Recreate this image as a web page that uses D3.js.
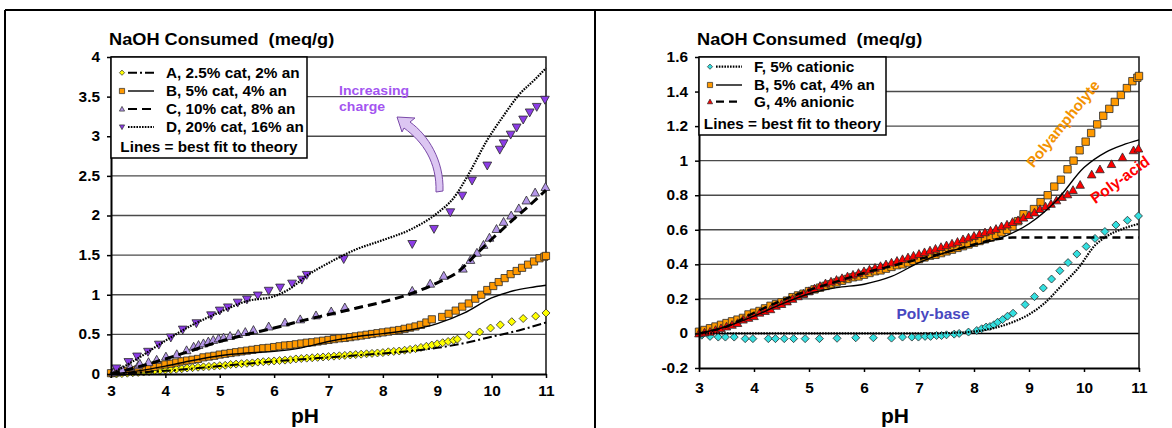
<!DOCTYPE html>
<html>
<head>
<meta charset="utf-8">
<script src="https://cdn.jsdelivr.net/npm/d3@7"></script>
<style>
body { margin: 0; background: #fff; }
svg text { font-family: Arial, "Liberation Sans", sans-serif; font-weight: bold; }
</style>
</head>
<body>
<script>
// ---- data (pH, NaOH consumed meq/g) ----
var xTicks = [3, 4, 5, 6, 7, 8, 9, 10, 11];
var leftYTicks = [0, 0.5, 1, 1.5, 2, 2.5, 3, 3.5, 4];
var rightYTicks = [-0.2, 0, 0.2, 0.4, 0.6, 0.8, 1, 1.2, 1.4, 1.6];

var seriesA = [[3.0,0],[3.1,0],[3.2,0.005],[3.3,0.01],[3.4,0.015],[3.5,0.02],[3.6,0.025],[3.7,0.03],[3.8,0.04],[3.9,0.045],
  [4.0,0.05],[4.1,0.055],[4.2,0.06],[4.3,0.065],[4.4,0.075],[4.5,0.08],[4.6,0.085],[4.7,0.09],[4.8,0.095],[4.9,0.1],
  [5.0,0.105],[5.1,0.11],[5.2,0.12],[5.3,0.125],[5.4,0.13],[5.5,0.135],[5.6,0.14],[5.7,0.15],[5.8,0.155],[5.9,0.16],
  [6.0,0.165],[6.1,0.17],[6.2,0.175],[6.3,0.18],[6.4,0.19],[6.5,0.195],[6.6,0.2],[6.7,0.205],[6.8,0.21],[6.9,0.215],
  [7.0,0.22],[7.1,0.225],[7.2,0.23],[7.3,0.235],[7.4,0.24],[7.5,0.245],[7.6,0.25],[7.7,0.255],[7.8,0.26],[7.9,0.265],
  [8.0,0.27],[8.1,0.28],[8.2,0.285],[8.3,0.29],[8.4,0.3],[8.5,0.31],[8.6,0.32],[8.7,0.335],[8.8,0.35],[8.9,0.365],
  [9.0,0.38],[9.1,0.395],[9.2,0.41],[9.3,0.425],[9.37,0.44],[9.58,0.49],[9.78,0.53],[9.98,0.58],[10.16,0.62],
  [10.37,0.66],[10.58,0.7],[10.81,0.73],[11.0,0.77]];
var fitA = [[3,0],[4,0.04],[5,0.1],[6,0.16],[7,0.21],[8,0.26],[8.5,0.29],[9,0.33],[9.5,0.39],[10,0.47],[10.5,0.55],[11,0.65]];

var seriesB = [[3.0,0.01],[3.1,0.02],[3.2,0.03],[3.3,0.04],[3.4,0.05],[3.5,0.06],[3.6,0.07],[3.7,0.08],[3.8,0.09],[3.9,0.11],
  [4.0,0.12],[4.1,0.13],[4.2,0.145],[4.3,0.16],[4.4,0.17],[4.5,0.18],[4.6,0.19],[4.7,0.21],[4.8,0.22],[4.9,0.23],
  [5.0,0.245],[5.1,0.255],[5.2,0.265],[5.3,0.275],[5.4,0.285],[5.5,0.295],[5.6,0.305],[5.7,0.315],[5.8,0.325],[5.9,0.33],
  [6.0,0.34],[6.1,0.35],[6.2,0.36],[6.3,0.365],[6.4,0.375],[6.5,0.385],[6.6,0.395],[6.7,0.4],[6.8,0.41],[6.9,0.42],
  [7.0,0.43],[7.1,0.44],[7.2,0.45],[7.3,0.455],[7.4,0.465],[7.5,0.475],[7.6,0.485],[7.7,0.495],[7.8,0.505],[7.9,0.515],
  [8.0,0.525],[8.1,0.535],[8.2,0.545],[8.3,0.555],[8.4,0.57],[8.5,0.585],[8.6,0.6],[8.7,0.62],[8.8,0.65],[8.9,0.69],
  [9.09,0.72],[9.21,0.76],[9.34,0.8],[9.46,0.85],[9.58,0.89],[9.7,0.95],[9.81,1.0],[9.92,1.06],[10.03,1.11],[10.13,1.16],
  [10.24,1.21],[10.35,1.26],[10.46,1.3],[10.56,1.34],[10.67,1.38],[10.78,1.42],[10.88,1.46],[10.97,1.48],[11.0,1.49]];
var fitB = [[3,0],[3.5,0.04],[4,0.1],[4.5,0.17],[5,0.23],[5.5,0.265],[6,0.285],[6.5,0.33],[7,0.41],[7.5,0.47],[8,0.51],
  [8.5,0.555],[9,0.635],[9.5,0.77],[10,0.96],[10.4,1.05],[10.7,1.09],[11,1.12]];

var seriesC = [[3.04,0.02],[3.17,0.03],[3.21,0.05],[3.35,0.09],[3.5,0.11],[3.53,0.13],[3.69,0.15],[3.84,0.18],[4.01,0.22],
  [4.21,0.25],[4.39,0.3],[4.52,0.345],[4.61,0.366],[4.7,0.387],[4.79,0.41],[4.88,0.43],[4.98,0.45],[5.07,0.46],[5.19,0.48],
  [5.34,0.505],[5.47,0.53],[5.62,0.555],[5.9,0.6],[6.2,0.65],[6.48,0.69],[6.77,0.74],[7.05,0.79],[7.3,0.84],[8.54,1.05],
  [8.87,1.14],[9.12,1.24],[9.47,1.33],[9.61,1.44],[9.73,1.53],[9.85,1.63],[9.96,1.72],[10.09,1.83],[10.22,1.92],
  [10.36,2.0],[10.5,2.09],[10.64,2.19],[10.8,2.29],[10.99,2.36]];
var fitC = [[3,0],[3.5,0.09],[4,0.19],[4.5,0.3],[5,0.41],[5.5,0.5],[6,0.58],[6.5,0.67],[7,0.75],[7.5,0.83],[8,0.91],
  [8.5,1.01],[9,1.15],[9.4,1.3],[9.7,1.5],[10,1.7],[10.4,1.95],[10.7,2.13],[11,2.32]];

var seriesD = [[3.1,0.07],[3.32,0.15],[3.48,0.22],[3.68,0.28],[3.88,0.37],[4.1,0.46],[4.32,0.56],[4.57,0.64],[4.84,0.74],
  [5.0,0.8],[5.15,0.84],[5.33,0.9],[5.5,0.94],[5.7,0.99],[5.9,1.05],[6.11,1.09],[6.33,1.14],[6.51,1.19],[6.6,1.25],
  [7.28,1.45],[8.54,1.64],[8.94,1.83],[9.24,2.04],[9.46,2.25],[9.64,2.44],[9.92,2.63],[10.15,2.83],[10.22,2.91],
  [10.35,3.02],[10.46,3.11],[10.58,3.21],[10.7,3.3],[10.83,3.37],[10.98,3.46]];
var fitD = [[3,0],[3.5,0.2],[4,0.42],[4.5,0.62],[5,0.78],[5.5,0.92],[6,0.98],[6.3,1.08],[6.6,1.24],[7,1.4],[7.5,1.57],
  [8,1.69],[8.5,1.82],[9,2.03],[9.3,2.22],[9.6,2.55],[9.9,2.93],[10.2,3.24],[10.5,3.52],[10.8,3.72],[11,3.86]];

var seriesF = [[3.05,-0.01],[3.2,-0.017],[3.35,-0.021],[3.48,-0.021],[3.64,-0.021],[3.84,-0.03],[3.98,-0.03],[4.26,-0.03],
  [4.39,-0.03],[4.55,-0.03],[4.72,-0.03],[4.93,-0.03],[5.19,-0.03],[5.51,-0.028],[5.85,-0.025],[6.17,-0.025],[6.5,-0.027],
  [6.7,-0.021],[6.87,-0.021],[6.99,-0.021],[7.11,-0.017],[7.21,-0.017],[7.32,-0.012],[7.41,-0.012],[7.5,-0.008],
  [7.64,-0.004],[7.73,0],[7.9,0.008],[8.05,0.017],[8.14,0.027],[8.22,0.037],[8.29,0.04],[8.36,0.05],[8.43,0.065],
  [8.52,0.08],[8.61,0.1],[8.71,0.117],[8.93,0.167],[9.1,0.213],[9.26,0.263],[9.41,0.315],[9.56,0.363],[9.71,0.41],
  [9.87,0.46],[10.04,0.503],[10.2,0.55],[10.38,0.59],[10.58,0.628],[10.79,0.655],[10.99,0.68]];
var fitF = [[3,0],[7,0],[7.6,0.003],[8.1,0.015],[8.7,0.065],[9,0.11],[9.3,0.18],[9.6,0.28],[9.9,0.38],[10.2,0.51],
  [10.4,0.56],[10.7,0.605],[11,0.635]];

var seriesG = [[3.0,0],[3.1,0.005],[3.2,0.01],[3.3,0.02],[3.4,0.03],[3.5,0.04],[3.6,0.05],[3.7,0.06],[3.8,0.08],[3.9,0.09],
  [4.0,0.1],[4.1,0.12],[4.2,0.13],[4.3,0.14],[4.4,0.16],[4.5,0.17],[4.6,0.185],[4.7,0.2],[4.8,0.215],[4.9,0.23],
  [5.0,0.245],[5.1,0.26],[5.2,0.275],[5.3,0.29],[5.4,0.3],[5.5,0.31],[5.6,0.32],[5.7,0.33],[5.8,0.34],[5.9,0.35],
  [6.0,0.36],[6.1,0.37],[6.2,0.38],[6.3,0.39],[6.4,0.4],[6.5,0.41],[6.6,0.42],[6.7,0.43],[6.8,0.44],[6.9,0.45],
  [7.0,0.46],[7.1,0.47],[7.2,0.48],[7.3,0.49],[7.4,0.5],[7.5,0.51],[7.6,0.52],[7.7,0.53],[7.8,0.545],[7.9,0.555],
  [8.0,0.565],[8.1,0.575],[8.2,0.585],[8.3,0.595],[8.4,0.605],[8.5,0.62],[8.6,0.63],[8.7,0.645],[8.8,0.655],[8.9,0.67],
  [9.0,0.685],[9.1,0.7],[9.2,0.72],[9.3,0.735],[9.4,0.75],[9.5,0.77],[9.6,0.79],[9.7,0.805],[9.8,0.83],[9.93,0.86],
  [10.14,0.92],[10.29,0.95],[10.5,0.98],[10.7,1.02],[10.9,1.06],[10.99,1.07]];
var fitG = [[3,0],[3.5,0.04],[4,0.12],[4.5,0.19],[5,0.25],[5.5,0.3],[6,0.35],[6.5,0.39],[7,0.43],[7.5,0.47],[8,0.515],
  [8.4,0.545],[8.7,0.555],[9,0.555],[11,0.555]];

var yellow1 = "#ffff00";
var orange1 = "#ff9900";
var lilac1 = "#b496e8";
var purple1 = "#8c3ce6";
var red1 = "#ff0000";
var cyan1 = "#33e0e0";

const w = 1172;
const h = 428;

const svg = d3.select("body").append("svg").attr("width", w).attr("height", h);

// outer frame
svg.append("line").attr("x1", 5).attr("y1", 10).attr("x2", w).attr("y2", 10).attr("stroke", "#000").attr("stroke-width", 2);
svg.append("line").attr("x1", 5).attr("y1", 10).attr("x2", 5).attr("y2", h).attr("stroke", "#000").attr("stroke-width", 2);
svg.append("line").attr("x1", 595).attr("y1", 10).attr("x2", 595).attr("y2", h).attr("stroke", "#000").attr("stroke-width", 2);

function shapePath(shape, s) {
    switch (shape) {
        case "diamond": return "M0," + (-s) + "L" + s + ",0L0," + s + "L" + (-s) + ",0Z";
        case "square": return "M" + (-s) + "," + (-s) + "H" + s + "V" + s + "H" + (-s) + "Z";
        case "triUp": return "M0," + (-s) + "L" + s + "," + (s * 0.8) + "L" + (-s) + "," + (s * 0.8) + "Z";
        case "triDown": return "M0," + s + "L" + s + "," + (-s * 0.8) + "L" + (-s) + "," + (-s * 0.8) + "Z";
    }
}

// stretched bold label (the source font renders a bit wide)
function label(g, x, y, txt, size, sx, anchor, color, rot) {
    return g.append("text")
        .attr("transform", "translate(" + x + "," + y + ")" + (rot ? " rotate(" + rot + ")" : "") + " scale(" + sx + ",1)")
        .attr("font-size", size)
        .attr("text-anchor", anchor || "start")
        .attr("fill", color || "#000")
        .text(txt);
}

function drawPanel(p) {
    const g = svg.append("g");
    const x = d3.scaleLinear().domain([3, 11]).range(p.xRange);
    const y = d3.scaleLinear().domain(p.yDomain).range(p.yRange);

    // gridlines
    g.selectAll(".grid")
        .data(p.yTicks.filter(d => d > p.yDomain[0] && d < p.yDomain[1]))
        .enter()
        .append("line")
        .attr("x1", x(3)).attr("x2", x(11))
        .attr("y1", d => y(d)).attr("y2", d => y(d))
        .attr("stroke", d => d == 0 ? "#000" : "#4a4a4a")
        .attr("stroke-width", 1.4);

    // plot box top + right
    g.append("path")
        .attr("d", "M" + x(3) + "," + y(p.yDomain[1]) + "H" + x(11) + "V" + y(p.yDomain[0]))
        .attr("fill", "none").attr("stroke", "#222").attr("stroke-width", 1.6);

    // markers
    p.series.forEach(s => {
        g.append("g").selectAll("path")
            .data(s.pts)
            .enter()
            .append("path")
            .attr("transform", d => "translate(" + x(d[0]) + "," + y(d[1]) + ")")
            .attr("d", shapePath(s.shape, s.size))
            .attr("fill", s.fill)
            .attr("stroke", "#2a2a2a")
            .attr("stroke-width", 0.8);
    });

    // fitted lines
    const line = d3.line().x(d => x(d[0])).y(d => y(d[1])).curve(d3.curveMonotoneX);
    p.series.forEach(s => {
        g.append("path")
            .attr("d", line(s.fit))
            .attr("fill", "none")
            .attr("stroke", "#000")
            .attr("stroke-width", s.lw)
            .attr("stroke-dasharray", s.dash);
    });

    // axes
    const yAxis = g.append("g")
        .attr("transform", "translate(" + x(3) + ",0)")
        .call(d3.axisLeft(y).tickValues(p.yTicks).tickSize(4).tickSizeOuter(0).tickPadding(6).tickFormat(d => String(d)));
    const xAxis = g.append("g")
        .attr("transform", "translate(0," + y(p.yDomain[0]) + ")")
        .call(d3.axisBottom(x).tickValues(xTicks).tickSize(4).tickSizeOuter(0).tickPadding(p.xPad).tickFormat(d => String(d)));
    [yAxis, xAxis].forEach(a => {
        a.attr("font-family", null).attr("font-size", null);
        a.select(".domain").attr("stroke", "#000").attr("stroke-width", 2);
        a.selectAll(".tick line").attr("stroke", "#000").attr("stroke-width", 1.5);
        a.selectAll(".tick text").attr("font-size", 14).attr("fill", "#000").attr("transform", "scale(1.1,1)");
    });

    // titles
    label(g, p.xRange[0] - 2, 45, "NaOH Consumed\u00a0 (meq/g)", 17, 1.07);
    label(g, p.pHx, 423, "pH", 21, 1.0, "middle");

    // legend
    const lg = g.append("g");
    lg.append("rect")
        .attr("x", p.legend.x).attr("y", p.legend.y)
        .attr("width", p.legend.w).attr("height", p.legend.h)
        .attr("fill", "#fff").attr("stroke", "#000").attr("stroke-width", 1.5);
    p.legendOrder.forEach((s, i) => {
        const cy = p.legend.rows[i];
        lg.append("path")
            .attr("transform", "translate(" + (p.legend.x + 11) + "," + cy + ")")
            .attr("d", shapePath(s.shape, 2.6))
            .attr("fill", s.fill).attr("stroke", "#2a2a2a").attr("stroke-width", 0.7);
        lg.append("line")
            .attr("x1", p.legend.x + 17).attr("x2", p.legend.x + 43)
            .attr("y1", cy).attr("y2", cy)
            .attr("stroke", "#000").attr("stroke-width", Math.min(s.lw, 2.2))
            .attr("stroke-dasharray", s.dash);
        label(lg, p.legend.x + 55, cy + 5, s.name, 13.8, 1.11);
    });
    label(lg, p.legend.x + p.legend.w / 2, p.legend.foot, "Lines = best fit to theory", 13.8, 1.11, "middle");

    return {g: g, x: x, y: y};
}

const sA = {name: "A, 2.5% cat, 2% an", pts: seriesA, fit: fitA, shape: "diamond", size: 4, fill: yellow1, lw: 2, dash: "9,3,2,3"};
const sB = {name: "B, 5% cat, 4% an", pts: seriesB, fit: fitB, shape: "square", size: 3.6, fill: orange1, lw: 1.4, dash: null};
const sC = {name: "C, 10% cat, 8% an", pts: seriesC, fit: fitC, shape: "triUp", size: 4.4, fill: lilac1, lw: 3, dash: "9,5"};
const sD = {name: "D, 20% cat, 16% an", pts: seriesD, fit: fitD, shape: "triDown", size: 4.4, fill: purple1, lw: 2.2, dash: "1.6,1.2"};
const sF = {name: "F, 5% cationic", pts: seriesF, fit: fitF, shape: "diamond", size: 4, fill: cyan1, lw: 2.2, dash: "1.6,1.2"};
const sB2 = {name: "B, 5% cat, 4% an", pts: seriesB, fit: fitB, shape: "square", size: 3.7, fill: orange1, lw: 1.4, dash: null};
const sG = {name: "G, 4% anionic", pts: seriesG, fit: fitG, shape: "triUp", size: 4.3, fill: red1, lw: 2.4, dash: "8,5"};

const left = drawPanel({
    xRange: [111, 546], yDomain: [0, 4], yRange: [374, 57], yTicks: leftYTicks, xPad: 8,
    series: [sA, sB, sC, sD], legendOrder: [sA, sB, sC, sD], pHx: 305,
    legend: {x: 111, y: 57, w: 196, h: 101, rows: [72.7, 91, 109, 127], foot: 152}
});

const right = drawPanel({
    xRange: [699, 1139], yDomain: [-0.2, 1.6], yRange: [368, 57], yTicks: rightYTicks, xPad: 11,
    series: [sF, sB2, sG], legendOrder: [sF, sB2, sG], pHx: 895,
    legend: {x: 699, y: 57, w: 187, h: 78, rows: [66.7, 85, 101.7], foot: 128.5}
});

// annotations, left
label(left.g, 339, 95, "Increasing", 13.5, 1.04, "start", "#a355f0");
label(left.g, 339, 111, "charge", 13.5, 1.04, "start", "#a355f0");
left.g.append("path")
    .attr("d", "M397,117 L415,118 L410,122 C428,135 444,160 443,191 L436,192 C437,162 423,142 404,128 L402,132 Z")
    .attr("fill", "#dcc6f2").attr("stroke", "#7a4aa8").attr("stroke-width", 1);

// annotations, right
label(right.g, 1067, 127, "Polyampholyte", 15, 1.0, "middle", "#f39200", -51);
label(right.g, 1123, 184, "Poly-acid", 15.5, 1.0, "middle", "#ff0000", -36);
label(right.g, 933, 319, "Poly-base", 15.5, 1.0, "middle", "#4848c0");
</script>
</body>
</html>
